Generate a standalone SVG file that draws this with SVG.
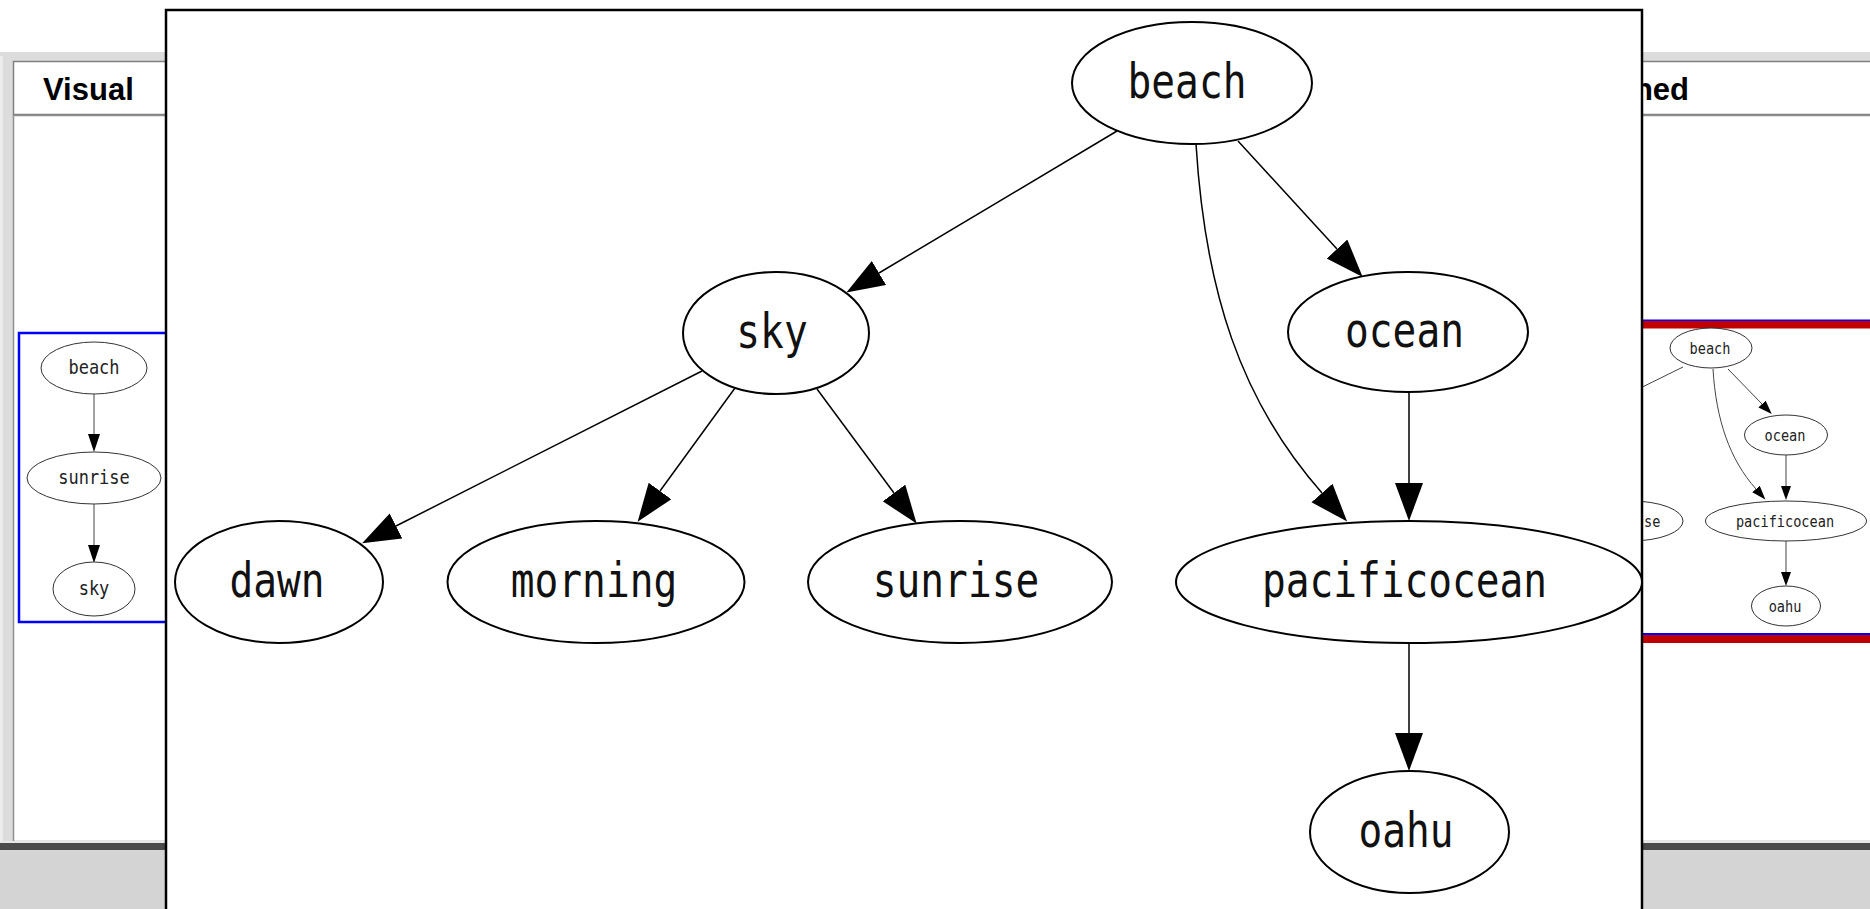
<svg xmlns="http://www.w3.org/2000/svg" width="1870" height="909" viewBox="0 0 1870 909">
<style>
.mn{fill:#fff;stroke:#000;stroke-width:2}
.mt{font-family:"DejaVu Sans Mono","Liberation Mono",monospace;font-size:39.5px;fill:#111;text-anchor:middle}
.sn{fill:#fff;stroke:#333;stroke-width:1}
.st{font-family:"DejaVu Sans Mono","Liberation Mono",monospace;font-size:17px;fill:#222;text-anchor:middle}
.rt{font-family:"DejaVu Sans Mono","Liberation Mono",monospace;font-size:13.6px;fill:#222;text-anchor:middle}
.me{fill:none;stroke:#000;stroke-width:1.5}
.se{fill:none;stroke:#444;stroke-width:1}
.hd{font-family:"Liberation Sans",Arial,sans-serif;font-weight:bold;font-size:31px;fill:#000}
</style>
<defs>
<marker id="ah" markerUnits="userSpaceOnUse" viewBox="0 0 40 30" markerWidth="40" markerHeight="30" refX="0" refY="14" orient="auto"><path d="M0,0 L38,14 L0,28 z" fill="#000"/></marker>
<marker id="ahs" markerUnits="userSpaceOnUse" viewBox="0 0 20 14" markerWidth="20" markerHeight="14" refX="0" refY="6" orient="auto"><path d="M0,0 L18,6 L0,12 z" fill="#000"/></marker>
<marker id="ahr" markerUnits="userSpaceOnUse" viewBox="0 0 16 12" markerWidth="16" markerHeight="12" refX="0" refY="5" orient="auto"><path d="M0,0 L14,5 L0,10 z" fill="#000"/></marker>
</defs>
<rect width="1870" height="909" fill="#fff"/>
<g id="background">
<rect x="0" y="52" width="13" height="791" fill="#dcdcdc"/>
<rect x="0" y="56" width="3" height="787" fill="#ececec"/>
<rect x="3" y="52" width="1867" height="9" fill="#dcdcdc"/>
<rect x="13.5" y="61.5" width="1870" height="53" fill="#fff" stroke="#808080" stroke-width="1.5"/>
<rect x="13.5" y="115.5" width="1870" height="726" fill="#fff" stroke="#909090" stroke-width="1.5"/>
<rect x="0" y="841" width="1870" height="2" fill="#e6e6e6"/>
<rect x="0" y="843" width="1870" height="7" fill="#4a4a4a"/>
<rect x="0" y="850" width="1870" height="59" fill="#d4d4d4"/>
<text class="hd" x="43" y="100">Visual</text>
<text class="hd" x="1689" y="100" text-anchor="end">ned</text>
</g>
<g id="left-panel">
<rect x="19" y="333" width="200" height="289" fill="#fff" stroke="#0000ff" stroke-width="2.5"/>
<g id="connectors-left">
<path class="se" d="M94,394 L94,434" marker-end="url(#ahs)"/>
<path class="se" d="M94,504 L94,545" marker-end="url(#ahs)"/>
</g>
<g id="l-beach"><ellipse class="sn" cx="94" cy="368" rx="53" ry="26"/><text class="st" transform="translate(94,374) scale(1,1.15)">beach</text></g>
<g id="l-sunrise"><ellipse class="sn" cx="94" cy="478" rx="67" ry="26"/><text class="st" transform="translate(94,484) scale(1,1.15)">sunrise</text></g>
<g id="l-sky"><ellipse class="sn" cx="94" cy="589" rx="41" ry="27"/><text class="st" transform="translate(94,595) scale(1,1.15)">sky</text></g>
</g>
<g id="right-panel">
<rect x="1600" y="319.5" width="270" height="1.5" fill="#0000ff"/>
<rect x="1600" y="321" width="270" height="7.5" fill="#c00000"/>
<rect x="1600" y="633" width="270" height="2" fill="#0000ff"/>
<rect x="1600" y="635" width="270" height="8" fill="#c00000"/>
<g id="connectors-right">
<path class="se" d="M1683,367 L1620,398"/>
<path class="se" d="M1728,369 L1762,404" marker-end="url(#ahr)"/>
<path class="se" d="M1713,369 C1716,420 1730,460 1756,489" marker-end="url(#ahr)"/>
<path class="se" d="M1786,455 L1786,486" marker-end="url(#ahr)"/>
<path class="se" d="M1786,541 L1786,572" marker-end="url(#ahr)"/>
</g>
<g id="r-beach"><ellipse class="sn" cx="1711" cy="348" rx="41" ry="20"/><text class="rt" transform="translate(1710,354) scale(1,1.18)">beach</text></g>
<g id="r-ocean"><ellipse class="sn" cx="1786" cy="435" rx="41.5" ry="20"/><text class="rt" transform="translate(1785,441) scale(1,1.18)">ocean</text></g>
<g id="r-sunrise"><ellipse class="sn" cx="1631" cy="521" rx="52" ry="20"/><text class="rt" style="text-anchor:start" transform="translate(1644,527) scale(1,1.18)">se</text></g>
<g id="r-pacificocean"><ellipse class="sn" cx="1786" cy="521" rx="80.5" ry="20"/><text class="rt" transform="translate(1785,527) scale(1,1.18)">pacificocean</text></g>
<g id="r-oahu"><ellipse class="sn" cx="1786" cy="606" rx="34.5" ry="20"/><text class="rt" transform="translate(1785,612) scale(1,1.18)">oahu</text></g>
</g>
<g id="popup">
<rect x="166" y="10" width="1476" height="920" fill="#fff" stroke="#000" stroke-width="2.5"/>
<g id="connectors">
<path class="me" d="M1117,131 L879,273" marker-end="url(#ah)"/>
<path class="me" d="M1238,141 L1337,249" marker-end="url(#ah)"/>
<path class="me" d="M1196,144 C1205,290 1240,400 1322,493" marker-end="url(#ah)"/>
<path class="me" d="M1409,392 L1409,483" marker-end="url(#ah)"/>
<path class="me" d="M1409,643 L1409,733" marker-end="url(#ah)"/>
<path class="me" d="M702,371 L396,526" marker-end="url(#ah)"/>
<path class="me" d="M735,388 L660,491" marker-end="url(#ah)"/>
<path class="me" d="M817,389 L894,493" marker-end="url(#ah)"/>
</g>
<g id="beach"><ellipse class="mn" cx="1192" cy="83" rx="120" ry="61"/><text class="mt" transform="translate(1187,98) scale(1,1.2)">beach</text></g>
<g id="sky"><ellipse class="mn" cx="776" cy="333" rx="93" ry="61"/><text class="mt" transform="translate(772,348) scale(1,1.2)">sky</text></g>
<g id="ocean"><ellipse class="mn" cx="1408" cy="332" rx="120" ry="60"/><text class="mt" transform="translate(1404.5,347) scale(1,1.2)">ocean</text></g>
<g id="dawn"><ellipse class="mn" cx="279" cy="582" rx="104" ry="61"/><text class="mt" transform="translate(277,597) scale(1,1.2)">dawn</text></g>
<g id="morning"><ellipse class="mn" cx="596" cy="582" rx="148.5" ry="61"/><text class="mt" transform="translate(594,597) scale(1,1.2)">morning</text></g>
<g id="sunrise"><ellipse class="mn" cx="960" cy="582" rx="152" ry="61"/><text class="mt" transform="translate(956,597) scale(1,1.2)">sunrise</text></g>
<g id="pacificocean"><ellipse class="mn" cx="1409" cy="582" rx="233" ry="61"/><text class="mt" transform="translate(1404.5,597) scale(1,1.2)">pacificocean</text></g>
<g id="oahu"><ellipse class="mn" cx="1409.5" cy="832" rx="99.5" ry="61"/><text class="mt" transform="translate(1406,847) scale(1,1.2)">oahu</text></g>
</g>
</svg>
